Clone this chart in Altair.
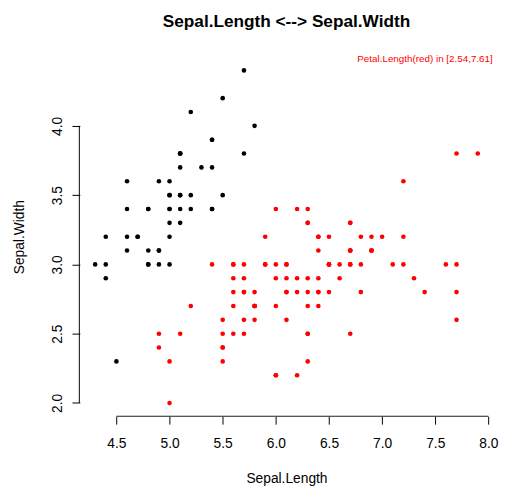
import altair as alt
import pandas as pd

sepal_length = [
    5.1, 4.9, 4.7, 4.6, 5.0, 5.4, 4.6, 5.0, 4.4, 4.9, 5.4, 4.8, 4.8, 4.3, 5.8, 5.7, 5.4, 5.1, 5.7, 5.1,
    5.4, 5.1, 4.6, 5.1, 4.8, 5.0, 5.0, 5.2, 5.2, 4.7, 4.8, 5.4, 5.2, 5.5, 4.9, 5.0, 5.5, 4.9, 4.4, 5.1,
    5.0, 4.5, 4.4, 5.0, 5.1, 4.8, 5.1, 4.6, 5.3, 5.0,
    7.0, 6.4, 6.9, 5.5, 6.5, 5.7, 6.3, 4.9, 6.6, 5.2, 5.0, 5.9, 6.0, 6.1, 5.6, 6.7, 5.6, 5.8, 6.2, 5.6,
    5.9, 6.1, 6.3, 6.1, 6.4, 6.6, 6.8, 6.7, 6.0, 5.7, 5.5, 5.5, 5.8, 6.0, 5.4, 6.0, 6.7, 6.3, 5.6, 5.5,
    5.5, 6.1, 5.8, 5.0, 5.6, 5.7, 5.7, 6.2, 5.1, 5.7,
    6.3, 5.8, 7.1, 6.3, 6.5, 7.6, 4.9, 7.3, 6.7, 7.2, 6.5, 6.4, 6.8, 5.7, 5.8, 6.4, 6.5, 7.7, 7.7, 6.0,
    6.9, 5.6, 7.7, 6.3, 6.7, 7.2, 6.2, 6.1, 6.4, 7.2, 7.4, 7.9, 6.4, 6.3, 6.1, 7.7, 6.3, 6.4, 6.0, 6.9,
    6.7, 6.9, 5.8, 6.8, 6.7, 6.7, 6.3, 6.5, 6.2, 5.9,
]
sepal_width = [
    3.5, 3.0, 3.2, 3.1, 3.6, 3.9, 3.4, 3.4, 2.9, 3.1, 3.7, 3.4, 3.0, 3.0, 4.0, 4.4, 3.9, 3.5, 3.8, 3.8,
    3.4, 3.7, 3.6, 3.3, 3.4, 3.0, 3.4, 3.5, 3.4, 3.2, 3.1, 3.4, 4.1, 4.2, 3.1, 3.2, 3.5, 3.6, 3.0, 3.4,
    3.5, 2.3, 3.2, 3.5, 3.8, 3.0, 3.8, 3.2, 3.7, 3.3,
    3.2, 3.2, 3.1, 2.3, 2.8, 2.8, 3.3, 2.4, 2.9, 2.7, 2.0, 3.0, 2.2, 2.9, 2.9, 3.1, 3.0, 2.7, 2.2, 2.5,
    3.2, 2.8, 2.5, 2.8, 2.9, 3.0, 2.8, 3.0, 2.9, 2.6, 2.4, 2.4, 2.7, 2.7, 3.0, 3.4, 3.1, 2.3, 3.0, 2.5,
    2.6, 3.0, 2.6, 2.3, 2.7, 3.0, 2.9, 2.9, 2.5, 2.8,
    3.3, 2.7, 3.0, 2.9, 3.0, 3.0, 2.5, 2.9, 2.5, 3.6, 3.2, 2.7, 3.0, 2.5, 2.8, 3.2, 3.0, 3.8, 2.6, 2.2,
    3.2, 2.8, 2.8, 2.7, 3.3, 3.2, 2.8, 3.0, 2.8, 3.0, 2.8, 3.8, 2.8, 2.8, 2.6, 3.0, 3.4, 3.1, 3.0, 3.1,
    3.1, 3.1, 2.7, 3.2, 3.3, 3.0, 2.5, 3.0, 3.4, 3.0,
]
in_range = ["no"] * 50 + ["yes"] * 100

x_ticks = [4.5, 5.0, 5.5, 6.0, 6.5, 7.0, 7.5, 8.0]
y_ticks = [2.0, 2.5, 3.0, 3.5, 4.0]
x_domain = [4.156, 8.044]
y_domain = [1.904, 4.496]

df = pd.DataFrame({"sl": sepal_length, "sw": sepal_width, "hl": in_range})

W, H = 420, 365
FONT = "Liberation Sans"

x_scale = alt.Scale(domain=x_domain, nice=False, zero=False)
y_scale = alt.Scale(domain=y_domain, nice=False, zero=False)

points = alt.Chart(df).mark_circle(size=22, opacity=1).encode(
    x=alt.X("sl:Q", scale=x_scale,
            axis=alt.Axis(values=x_ticks, format=".1f", grid=False, domain=False,
                          tickSize=8, tickColor="black", labelFontSize=14, labelFont=FONT,
                          labelColor="black", labelBaseline="alphabetic", labelPadding=24,
                          labelFlush=False, labelOverlap=False,
                          title="Sepal.Length", titleFont=FONT, titleFontSize=14,
                          titleFontWeight="normal", titleColor="black",
                          titleBaseline="alphabetic", titleY=67, titleX=W / 2)),
    y=alt.Y("sw:Q", scale=y_scale,
            axis=alt.Axis(values=y_ticks, format=".1f", grid=False, domain=False,
                          tickSize=8, tickColor="black", labelFontSize=14, labelFont=FONT,
                          labelColor="black", labelAngle=-90, labelAlign="center",
                          labelBaseline="alphabetic", labelPadding=11,
                          labelFlush=False, labelOverlap=False,
                          title="Sepal.Width", titleFont=FONT, titleFontSize=14,
                          titleFontWeight="normal", titleColor="black",
                          titleBaseline="alphabetic", titleAngle=-90, titleAlign="center",
                          titleX=-57, titleY=H / 2)),
    color=alt.Color("hl:N", scale=alt.Scale(domain=["no", "yes"], range=["#000000", "#FF0000"]),
                    legend=None),
)

xline = alt.Chart(pd.DataFrame({"a": [x_ticks[0]], "b": [x_ticks[-1]]})).mark_rule(
    color="#222222", strokeWidth=1.2).encode(
    x=alt.X("a:Q", scale=x_scale), x2="b:Q", y=alt.value(H))
yline = alt.Chart(pd.DataFrame({"a": [y_ticks[0]], "b": [y_ticks[-1]]})).mark_rule(
    color="black", strokeWidth=1).encode(
    y=alt.Y("a:Q", scale=y_scale), y2="b:Q", x=alt.value(-0.5))

title = alt.Chart(pd.DataFrame({"t": ["Sepal.Length <--> Sepal.Width"]})).mark_text(
    font=FONT, fontSize=17.5, fontWeight="bold", color="black", align="center",
    baseline="alphabetic").encode(text="t:N", x=alt.value(W / 2), y=alt.value(-31))

note = alt.Chart(pd.DataFrame({"t": ["Petal.Length(red) in [2.54,7.61]"]})).mark_text(
    font=FONT, fontSize=10, color="#FF0000", align="right",
    baseline="alphabetic").encode(text="t:N", x=alt.value(419.7), y=alt.value(5))

chart = alt.layer(points, xline, yline, title, note).properties(
    width=W, height=H,
    autosize=alt.AutoSizeParams(type="none"),
    padding={"left": 73, "top": 46, "right": 6, "bottom": 71},
).configure_view(stroke=None)

chart.save("out.html", embed_options={"renderer": "svg", "actions": False})
